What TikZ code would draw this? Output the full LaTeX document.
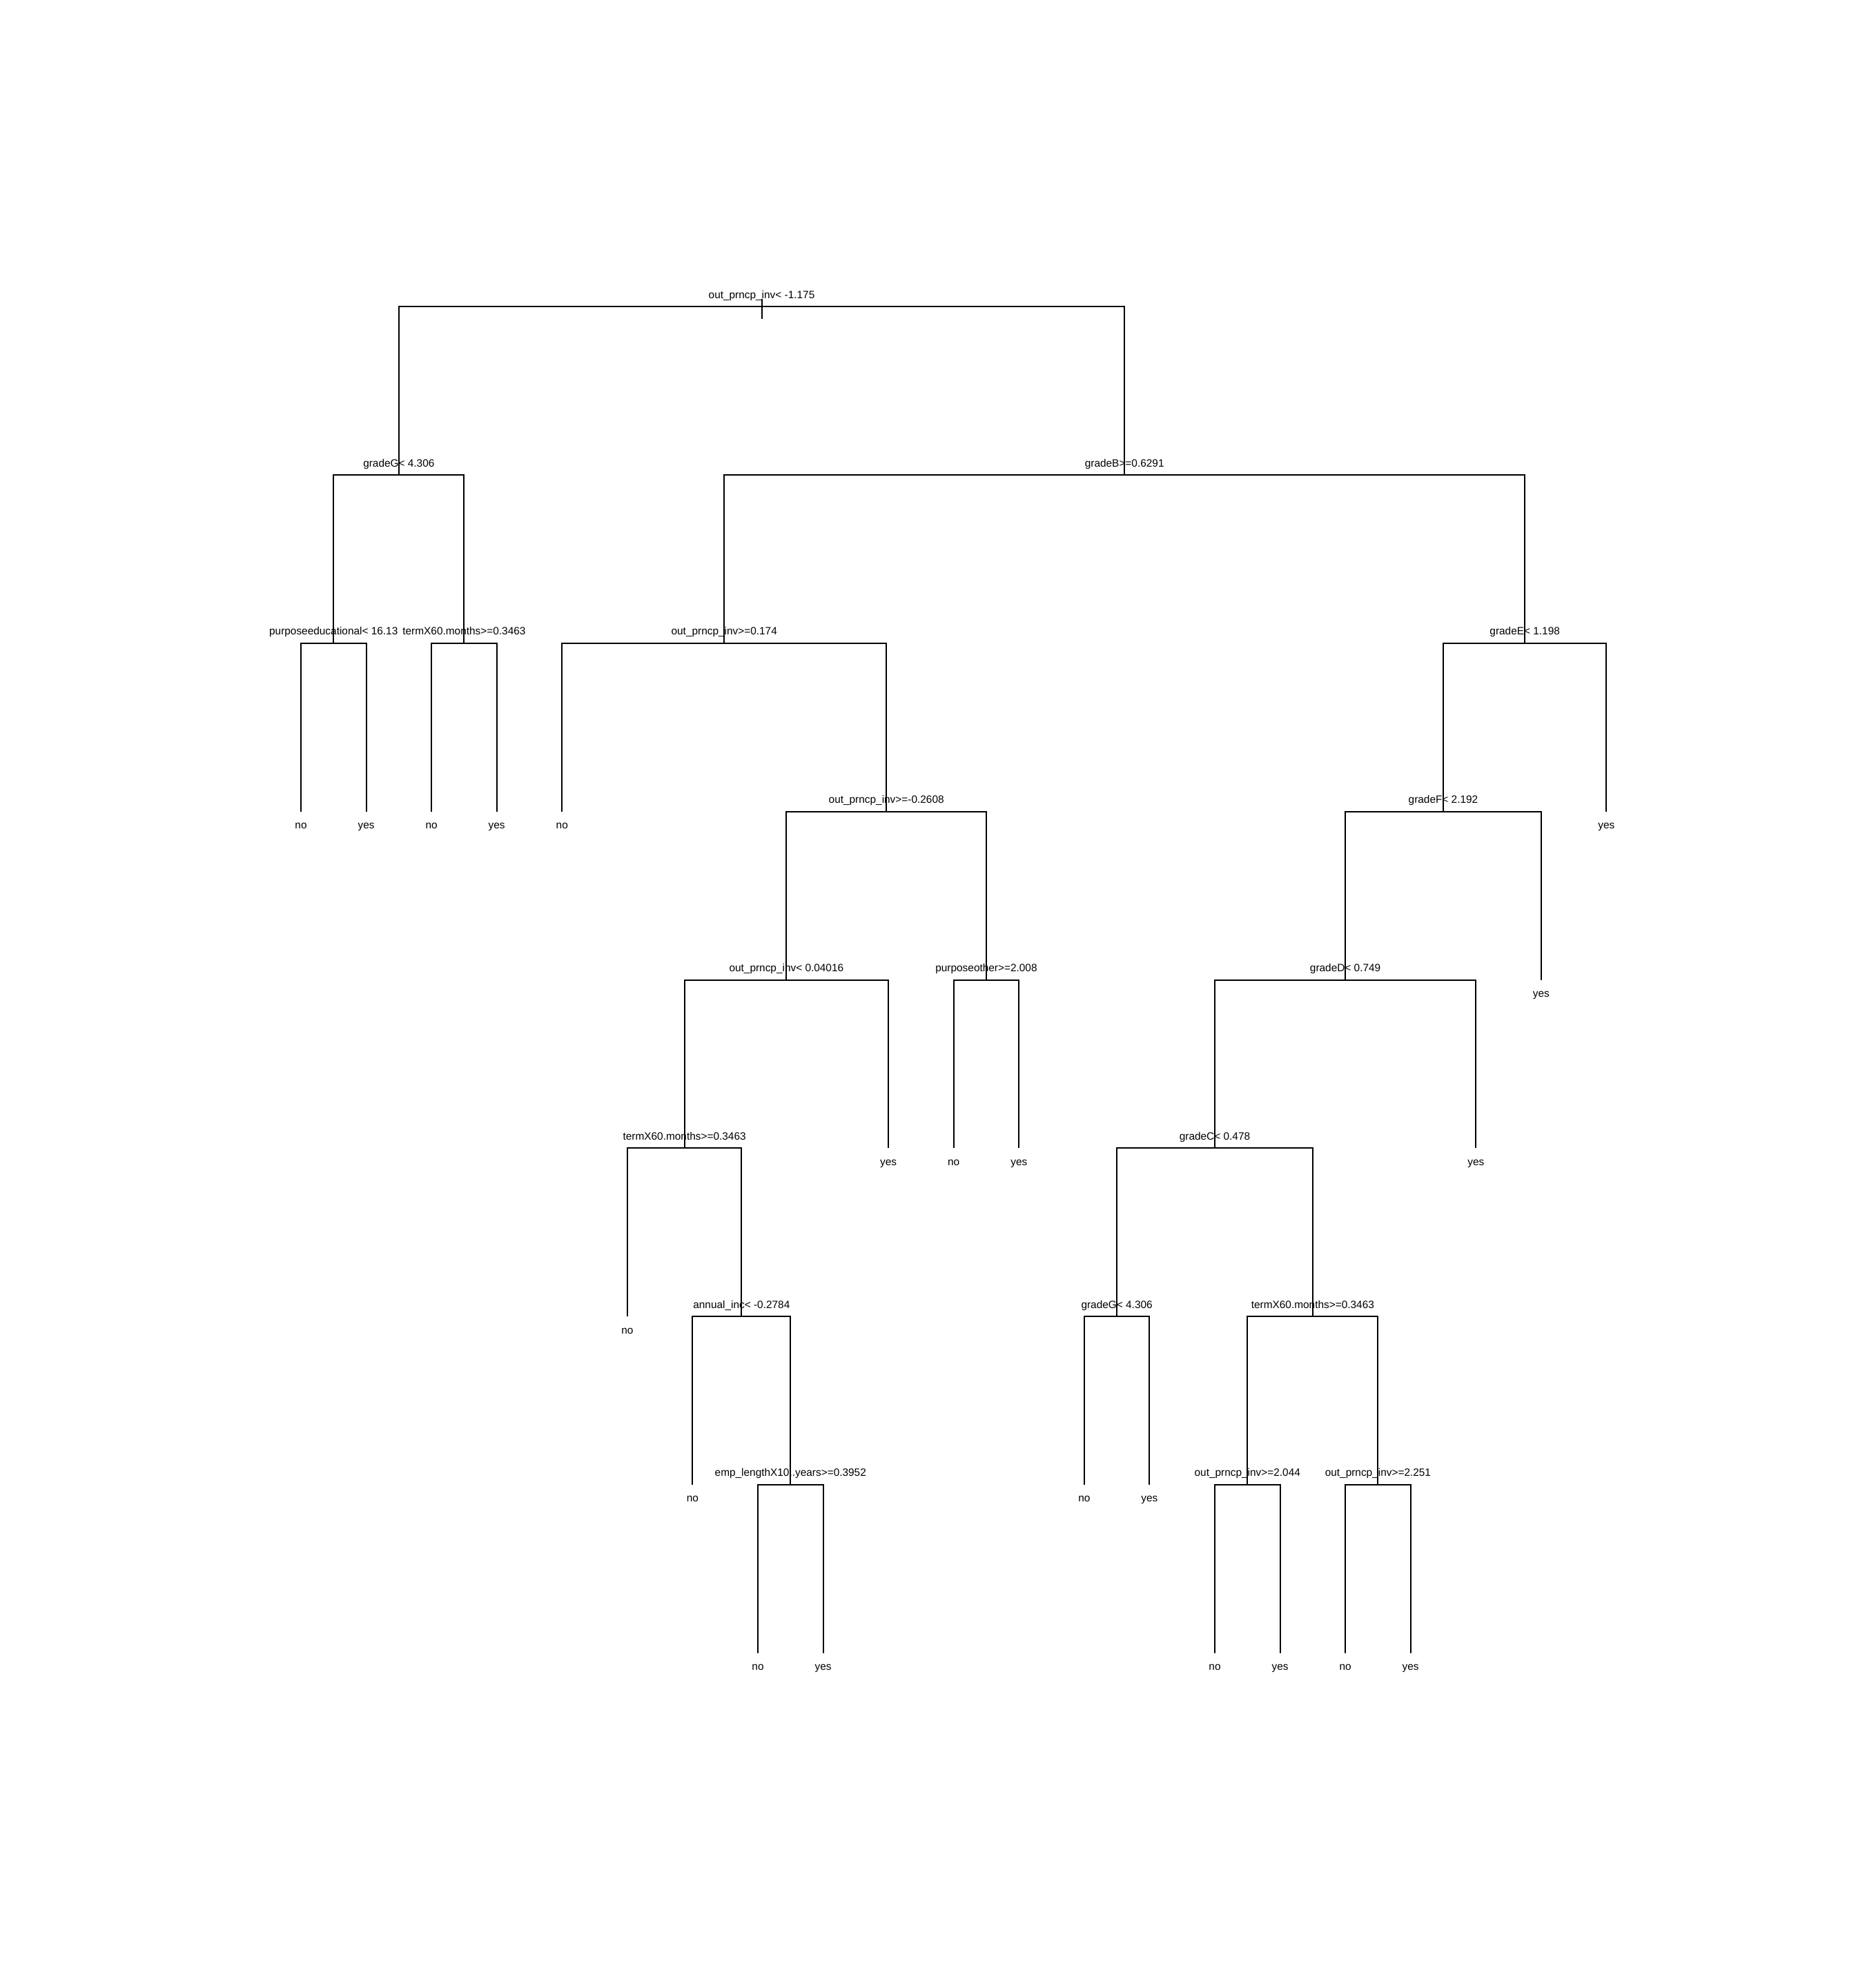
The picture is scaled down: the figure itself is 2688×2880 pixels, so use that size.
\documentclass[tikz,border=0pt]{standalone}
\usepackage{fontspec}
\setmainfont{Liberation Sans}
\begin{document}
\begin{tikzpicture}[x=1pt,y=1pt,
  edge/.style={line width=2pt},
  splitlab/.style={anchor=base,inner sep=0pt,yshift=12pt,font=\fontsize{15.4}{18}\selectfont},
  leaflab/.style={anchor=base,inner sep=0pt,yshift=-25pt,font=\fontsize{15.4}{18}\selectfont}]
\useasboundingbox (0,0) rectangle (2688,-2880);
\begin{scope}[shift={(341.43pt,-200.5pt)},x=94.57pt,y=-243.8pt]
% internal nodes (leaf-index, level)
\coordinate (r)   at (8.05859375,1);
\coordinate (gG)  at (2.5,2);
\coordinate (gB)  at (13.6171875,2);
\coordinate (pe)  at (1.5,3);
\coordinate (t1)  at (3.5,3);
\coordinate (o1)  at (7.484375,3);
\coordinate (gE)  at (19.75,3);
\coordinate (o2)  at (9.96875,4);
\coordinate (gF)  at (18.5,4);
\coordinate (o3)  at (8.4375,5);
\coordinate (po)  at (11.5,5);
\coordinate (gD)  at (17,5);
\coordinate (t2)  at (6.875,6);
\coordinate (gC)  at (15,6);
\coordinate (ai)  at (7.75,7);
\coordinate (gG2) at (13.5,7);
\coordinate (t3)  at (16.5,7);
\coordinate (el)  at (8.5,8);
\coordinate (o4)  at (15.5,8);
\coordinate (o5)  at (17.5,8);
% leaves
\coordinate (l1)  at (1,4);
\coordinate (l2)  at (2,4);
\coordinate (l3)  at (3,4);
\coordinate (l4)  at (4,4);
\coordinate (l5)  at (5,4);
\coordinate (l6)  at (6,7);
\coordinate (l7)  at (7,8);
\coordinate (l8)  at (8,9);
\coordinate (l9)  at (9,9);
\coordinate (l10) at (10,6);
\coordinate (l11) at (11,6);
\coordinate (l12) at (12,6);
\coordinate (l13) at (13,8);
\coordinate (l14) at (14,8);
\coordinate (l15) at (15,9);
\coordinate (l16) at (16,9);
\coordinate (l17) at (17,9);
\coordinate (l18) at (18,9);
\coordinate (l19) at (19,6);
\coordinate (l20) at (20,5);
\coordinate (l21) at (21,4);
% branches
\draw[edge] ([yshift=11pt]r) -- ([yshift=-17.5pt]r);
\draw[edge] (gG) |- (r) -| (gB);
\draw[edge] (pe) |- (gG) -| (t1);
\draw[edge] (o1) |- (gB) -| (gE);
\draw[edge] (l1) |- (pe) -| (l2);
\draw[edge] (l3) |- (t1) -| (l4);
\draw[edge] (l5) |- (o1) -| (o2);
\draw[edge] (gF) |- (gE) -| (l21);
\draw[edge] (o3) |- (o2) -| (po);
\draw[edge] (gD) |- (gF) -| (l20);
\draw[edge] (t2) |- (o3) -| (l10);
\draw[edge] (l11) |- (po) -| (l12);
\draw[edge] (gC) |- (gD) -| (l19);
\draw[edge] (l6) |- (t2) -| (ai);
\draw[edge] (gG2) |- (gC) -| (t3);
\draw[edge] (l7) |- (ai) -| (el);
\draw[edge] (l13) |- (gG2) -| (l14);
\draw[edge] (o4) |- (t3) -| (o5);
\draw[edge] (l8) |- (el) -| (l9);
\draw[edge] (l15) |- (o4) -| (l16);
\draw[edge] (l17) |- (o5) -| (l18);
% split labels
\node[splitlab] (Tr)   at (r)   {out\_prncp\_inv< -1.175};
\node[splitlab] (TgG)  at (gG)  {gradeG< 4.306};
\node[splitlab] (TgB)  at (gB)  {gradeB>=0.6291};
\node[splitlab] (Tpe)  at (pe)  {purposeeducational< 16.13};
\node[splitlab] (Tt1)  at (t1)  {termX60.months>=0.3463};
\node[splitlab] (To1)  at (o1)  {out\_prncp\_inv>=0.174};
\node[splitlab] (TgE)  at (gE)  {gradeE< 1.198};
\node[splitlab] (To2)  at (o2)  {out\_prncp\_inv>=-0.2608};
\node[splitlab] (TgF)  at (gF)  {gradeF< 2.192};
\node[splitlab] (To3)  at (o3)  {out\_prncp\_inv< 0.04016};
\node[splitlab] (Tpo)  at (po)  {purposeother>=2.008};
\node[splitlab] (TgD)  at (gD)  {gradeD< 0.749};
\node[splitlab] (Tt2)  at (t2)  {termX60.months>=0.3463};
\node[splitlab] (TgC)  at (gC)  {gradeC< 0.478};
\node[splitlab] (Tai)  at (ai)  {annual\_inc< -0.2784};
\node[splitlab] (TgG2) at (gG2) {gradeG< 4.306};
\node[splitlab] (Tt3)  at (t3)  {termX60.months>=0.3463};
\node[splitlab] (Tel)  at (el)  {emp\_lengthX10..years>=0.3952};
\node[splitlab] (To4)  at (o4)  {out\_prncp\_inv>=2.044};
\node[splitlab] (To5)  at (o5)  {out\_prncp\_inv>=2.251};
% leaf labels
\node[leaflab] (Tl1)  at (l1)  {no};
\node[leaflab] (Tl2)  at (l2)  {yes};
\node[leaflab] (Tl3)  at (l3)  {no};
\node[leaflab] (Tl4)  at (l4)  {yes};
\node[leaflab] (Tl5)  at (l5)  {no};
\node[leaflab] (Tl6)  at (l6)  {no};
\node[leaflab] (Tl7)  at (l7)  {no};
\node[leaflab] (Tl8)  at (l8)  {no};
\node[leaflab] (Tl9)  at (l9)  {yes};
\node[leaflab] (Tl10) at (l10) {yes};
\node[leaflab] (Tl11) at (l11) {no};
\node[leaflab] (Tl12) at (l12) {yes};
\node[leaflab] (Tl13) at (l13) {no};
\node[leaflab] (Tl14) at (l14) {yes};
\node[leaflab] (Tl15) at (l15) {no};
\node[leaflab] (Tl16) at (l16) {yes};
\node[leaflab] (Tl17) at (l17) {no};
\node[leaflab] (Tl18) at (l18) {yes};
\node[leaflab] (Tl19) at (l19) {yes};
\node[leaflab] (Tl20) at (l20) {yes};
\node[leaflab] (Tl21) at (l21) {yes};
\end{scope}
\end{tikzpicture}
\end{document}
